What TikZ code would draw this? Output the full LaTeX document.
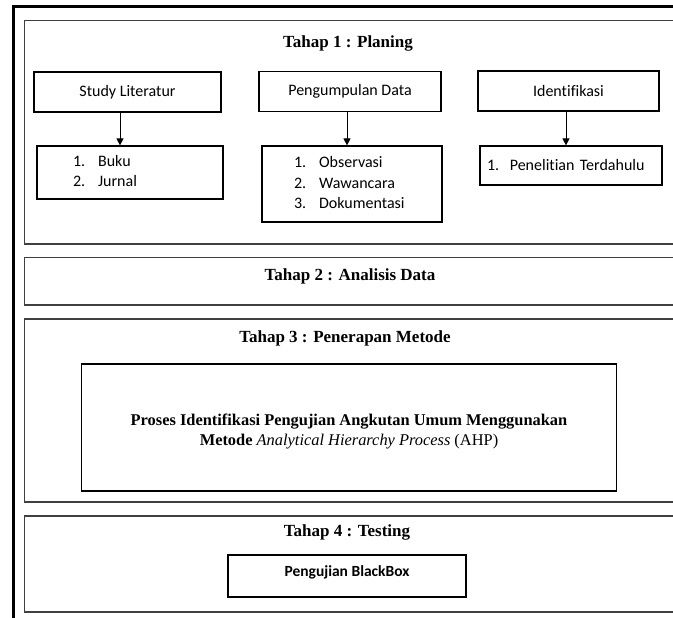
\documentclass[tikz,border=0pt]{standalone}
\usepackage{fontspec}
\setmainfont{Liberation Serif}
\newfontfamily\calibfont[Ligatures=NoCommon]{Carlito}
\usetikzlibrary{arrows.meta}
\begin{document}
\begin{tikzpicture}[x=1pt,y=-1pt,
    stage/.style={draw=black!75,line width=1.4pt},
    title/.style={font=\fontsize{17}{20}\selectfont\bfseries},
    box/.style={draw,line width=1.2pt,inner sep=0pt,minimum height=40pt,
      font=\calibfont\fontsize{16}{20.5}\selectfont},
    listbox/.style={box,align=left,inner ysep=0pt},
    arr/.style={line width=1pt,-{Triangle[width=7pt,length=7pt]}}]
  \useasboundingbox (0,0) rectangle (673,618);
  \clip (0,0) rectangle (673,618);
  % frames
  \draw[line width=3pt] (13.5,6.5) rectangle (700,650);
  \draw[stage] (24.5,20.5) rectangle (700,244);
  \draw[stage] (24.5,257.5) rectangle (700,305);
  \draw[stage] (24.5,319) rectangle (700,502);
  \draw[stage] (24.5,516) rectangle (700,612);
  % titles
  \node[title] (tahap1) at (348,43) {Tahap 1 : Planing};
  \node[title] (tahap2) at (350,276) {Tahap 2 : Analisis Data};
  \node[title] (tahap3) at (345,338) {Tahap 3 : Penerapan Metode};
  \node[title] (tahap4) at (347,532) {Tahap 4 : Testing};
  % planing
  \node[box,minimum width=187pt] (studylit) at (127.5,92) {Study Literatur};
  \node[box,minimum width=182pt] (pengdata) at (350,91.5) {Pengumpulan Data};
  \node[box,minimum width=181pt] (identif) at (568.5,91) {Identifikasi};
  \node[listbox,inner xsep=36pt,text width=114pt,minimum height=53pt] (litlist) at (130,172.5)
    {\begin{tabular}{@{}l@{\hspace{13pt}}l@{}}1.&Buku\\2.&Jurnal\end{tabular}};
  \node[listbox,inner xsep=32pt,text width=116pt,minimum height=76pt] (datalist) at (352,184)
    {\begin{tabular}{@{}l@{\hspace{13pt}}l@{}}1.&Observasi\\2.&Wawancara\\3.&Dokumentasi\end{tabular}};
  \node[listbox,inner xsep=7pt,text width=168pt,minimum height=39pt] (idlist) at (571,165.5)
    {1.\ \ Penelitian Terdahulu};
  \begin{scope}[arr]
    \draw ([xshift=-7.5pt]studylit.south) -- ([xshift=-7.5pt]studylit.south |- litlist.north);
    \draw ([xshift=-3pt]pengdata.south) -- ([xshift=-3pt]pengdata.south |- datalist.north);
    \draw ([xshift=-2.5pt]identif.south) -- ([xshift=-2.5pt]identif.south |- idlist.north);
  \end{scope}
  % metode
  \node[box,minimum width=535pt,minimum height=127pt,
    font=\fontsize{16.4}{20}\selectfont\bfseries] (ahp) at (349,427.5)
    {\raisebox{-8.5pt}[0pt][0pt]{\begin{tabular}{@{}c@{}}Proses Identifikasi Pengujian Angkutan Umum Menggunakan\\
     Metode {\mdseries\itshape Analytical Hierarchy Process} {\mdseries(AHP)}\end{tabular}}};
  % testing
  \node[box,minimum width=238pt,minimum height=42pt,
    font=\calibfont\bfseries\fontsize{15.5}{20.5}\selectfont] (blackbox) at (347,576)
    {\raisebox{0pt}[0pt][0pt]{Pengujian BlackBox}};
\end{tikzpicture}
\end{document}
